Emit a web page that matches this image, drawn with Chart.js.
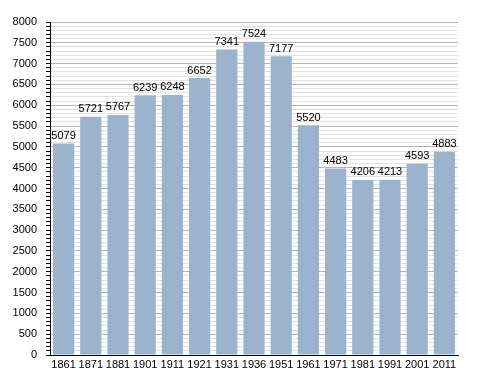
<!DOCTYPE html>
<html>
<head>
<meta charset="utf-8">
<script src="https://cdn.jsdelivr.net/npm/chart.js@4/dist/chart.umd.min.js"></script>
<style>
  html, body { margin: 0; padding: 0; background: #fff; }
  #wrap { width: 488px; height: 373px; }
</style>
</head>
<body>
<div id="wrap"><canvas id="chart" width="488" height="373"></canvas></div>
<script>
// years and population
const years = ['1861', '1871', '1881', '1901', '1911', '1921', '1931', '1936', '1951', '1961', '1971', '1981', '1991', '2001', '2011'];
const population = [5079, 5721, 5767, 6239, 6248, 6652, 7341, 7524, 7177, 5520, 4483, 4206, 4213, 4593, 4883];
const yMax = 8000;
const majorStep = 500;
const minorStep = 100;

// value above every bar
const barLabels = {
  id: 'barLabels',
  afterDatasetsDraw(chart) {
    const ctx = chart.ctx;
    const meta = chart.getDatasetMeta(0);
    ctx.save();
    ctx.font = '11px "Liberation Sans", Arial, sans-serif';
    ctx.fillStyle = '#000';
    ctx.textAlign = 'center';
    ctx.textBaseline = 'bottom';
    meta.data.forEach((bar, i) => {
      ctx.fillText(String(population[i]), bar.x, bar.y - 2);
    });
    ctx.restore();
  }
};

new Chart(document.getElementById('chart'), {
  type: 'bar',
  data: {
    labels: years,
    datasets: [{
      data: population,
      backgroundColor: '#9cb3cd',
      borderWidth: 0,
      categoryPercentage: 1,
      barPercentage: 0.78
    }]
  },
  options: {
    responsive: false,
    animation: false,
    layout: { padding: { top: 22, right: 30, left: 0, bottom: 0 } },
    plugins: {
      legend: { display: false },
      tooltip: { enabled: false }
    },
    scales: {
      x: {
        grid: { display: false, drawTicks: false },
        border: { color: '#000', width: 1 },
        ticks: {
          color: '#000',
          font: { family: '"Liberation Sans", Arial, sans-serif', size: 11 },
          padding: 3,
          maxRotation: 0,
          autoSkip: false
        },
        afterFit(scale) { scale.height = 18; }
      },
      y: {
        min: 0,
        max: yMax,
        grid: {
          color: c => (c.tick.value % majorStep === 0 ? '#b4b4b4' : '#e2e2e2'),
          tickColor: '#000',
          tickLength: 4
        },
        border: { color: '#000', width: 1 },
        ticks: {
          stepSize: minorStep,
          autoSkip: false,
          color: '#000',
          padding: 9,
          font: { family: '"Liberation Sans", Arial, sans-serif', size: 11 },
          callback: v => (v % majorStep === 0 ? String(v) : '')
        },
        afterFit(scale) { scale.width = 50; }
      }
    }
  },
  plugins: [barLabels]
});
</script>
</body>
</html>
